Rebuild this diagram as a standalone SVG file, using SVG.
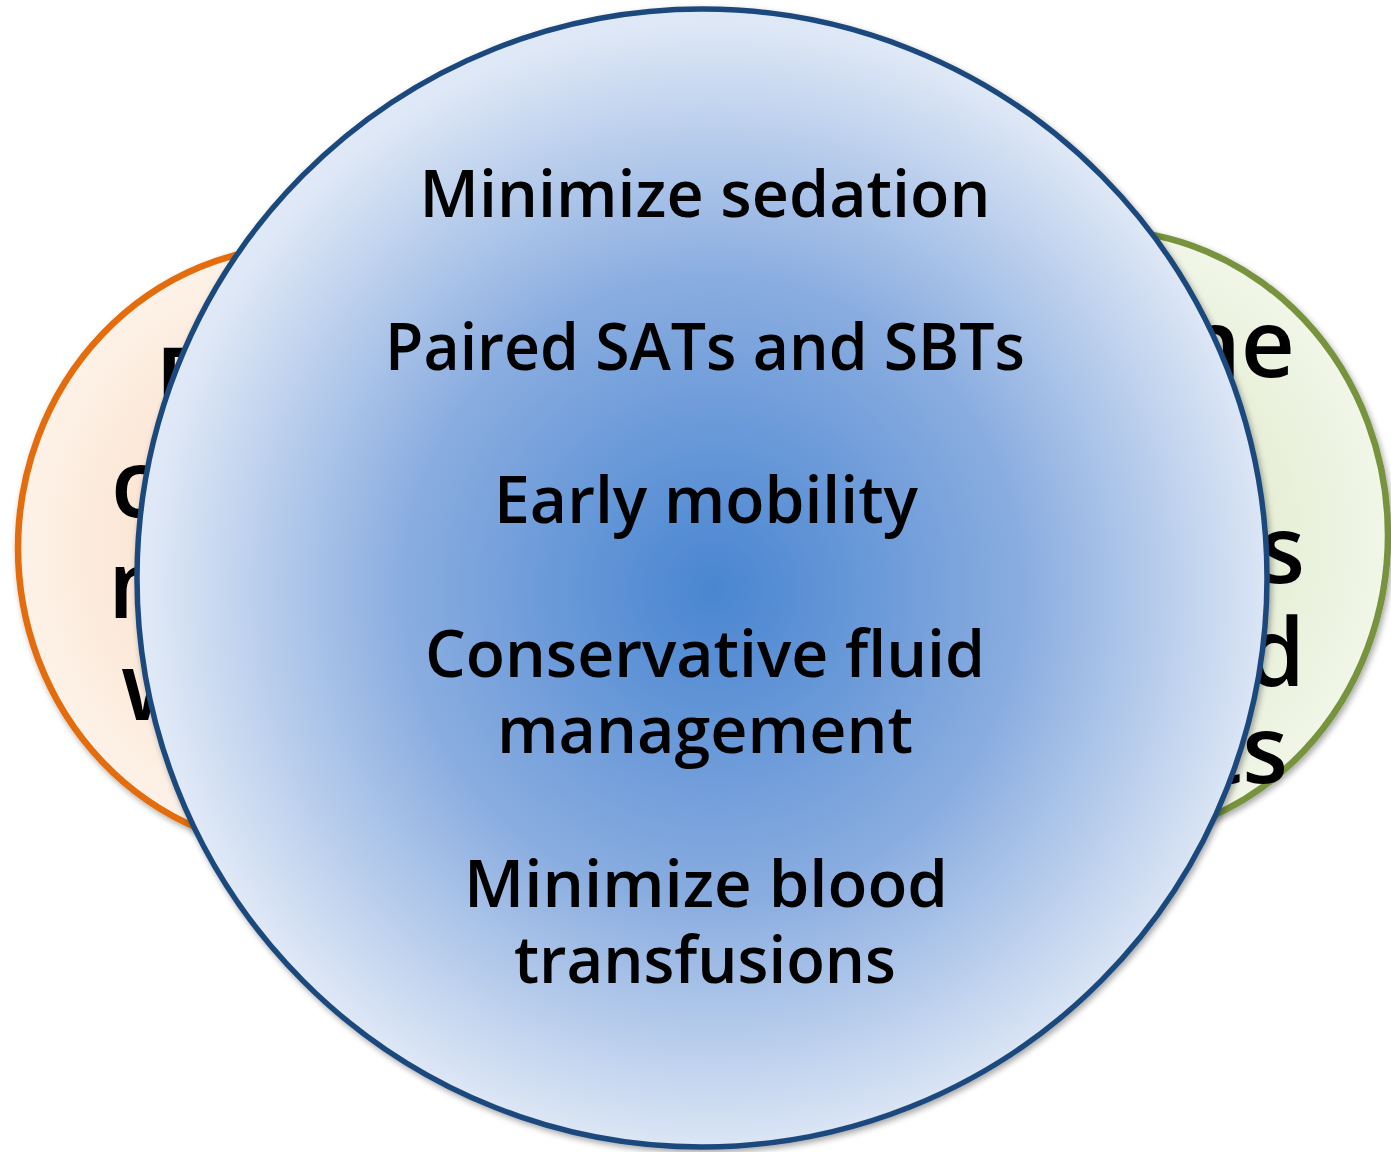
<svg xmlns="http://www.w3.org/2000/svg" width="1391" height="1152" viewBox="0 0 1391 1152">
  <defs>
    <radialGradient id="gOrange" cx="0.5" cy="0.5" r="0.5">
      <stop offset="0" stop-color="#f9d6ba"/>
      <stop offset="1" stop-color="#fdf2e8"/>
    </radialGradient>
    <radialGradient id="gGreen" cx="0.5" cy="0.5" r="0.5">
      <stop offset="0" stop-color="#d7e4bd"/>
      <stop offset="1" stop-color="#f1f6e8"/>
    </radialGradient>
    <radialGradient id="gBlue" cx="0.51" cy="0.51" r="0.5">
      <stop offset="0" stop-color="#4a86d1"/>
      <stop offset="0.15" stop-color="#5a90d5"/>
      <stop offset="0.55" stop-color="#8aade0"/>
      <stop offset="1" stop-color="#dfe8f6"/>
    </radialGradient>
    <filter id="shadow" x="-10%" y="-10%" width="120%" height="120%">
      <feGaussianBlur in="SourceAlpha" stdDeviation="3"/>
      <feOffset dx="2" dy="3" result="b"/>
      <feComponentTransfer><feFuncA type="linear" slope="0.35"/></feComponentTransfer>
      <feMerge><feMergeNode/><feMergeNode in="SourceGraphic"/></feMerge>
    </filter>
  </defs>
  <style>
    .side { font-family: "Open Sans", "Noto Sans", "Liberation Sans", sans-serif; font-size: 94px; font-weight: 600; fill: #000; }
    .main { font-family: "Open Sans", "Noto Sans", "Liberation Sans", sans-serif; font-size: 66px; font-weight: 600; fill: #000; text-anchor: middle; }
  </style>

  <g id="node-left">
    <ellipse cx="305" cy="548" rx="287" ry="302" fill="url(#gOrange)" stroke="#e46c0a" stroke-width="6.5" filter="url(#shadow)"/>
    <text class="side" x="155" y="415">D</text>
    <text class="side" x="111" y="517">c</text>
    <text class="side" x="108" y="618">n</text>
    <text class="side" x="121" y="720">w</text>
  </g>

  <g id="node-right">
    <ellipse cx="1101" cy="535" rx="287" ry="305" fill="url(#gGreen)" stroke="#77933c" stroke-width="6.5" filter="url(#shadow)"/>
    <text class="side" x="1295" y="377" text-anchor="end">ne</text>
    <text class="side" x="1305" y="583" text-anchor="end">s</text>
    <text class="side" x="1305" y="686" text-anchor="end">d</text>
    <text class="side" x="1288" y="783" text-anchor="end">ts</text>
  </g>

  <g id="node-center">
    <ellipse cx="702" cy="578" rx="565" ry="569" fill="url(#gBlue)" stroke="#1f497d" stroke-width="5.5" filter="url(#shadow)"/>
    <text class="main" x="705" y="217" textLength="571" lengthAdjust="spacingAndGlyphs">Minimize sedation</text>
    <text class="main" x="705" y="370" textLength="640" lengthAdjust="spacingAndGlyphs">Paired SATs and SBTs</text>
    <text class="main" x="706" y="523" textLength="424" lengthAdjust="spacingAndGlyphs">Early mobility</text>
    <text class="main" x="705" y="677" textLength="560" lengthAdjust="spacingAndGlyphs">Conservative fluid</text>
    <text class="main" x="705" y="753" textLength="416" lengthAdjust="spacingAndGlyphs">management</text>
    <text class="main" x="706" y="907" textLength="484" lengthAdjust="spacingAndGlyphs">Minimize blood</text>
    <text class="main" x="705" y="983" textLength="382" lengthAdjust="spacingAndGlyphs">transfusions</text>
  </g>

  <g id="connectors"/>
</svg>
